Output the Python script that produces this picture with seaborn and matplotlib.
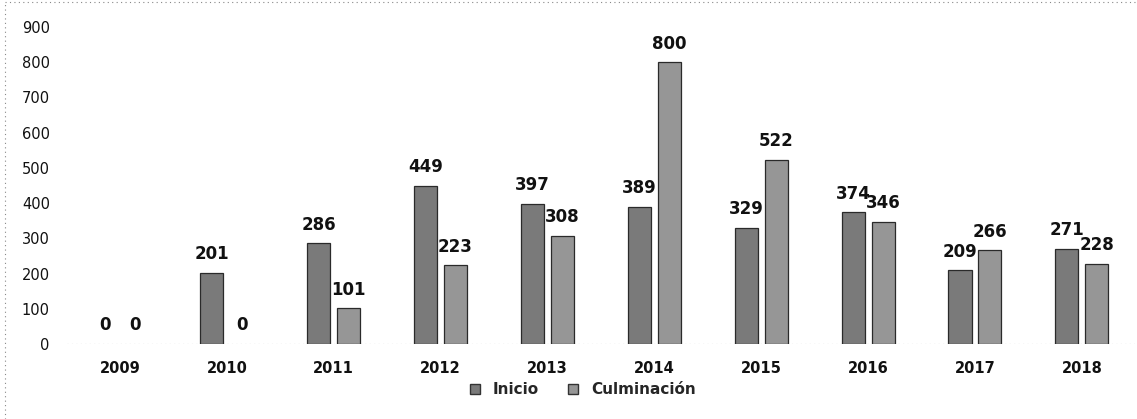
import matplotlib
matplotlib.use("Agg")
import matplotlib.pyplot as plt
import seaborn as sns
import pandas as pd
from matplotlib.lines import Line2D

years = ["2009", "2010", "2011", "2012", "2013", "2014", "2015", "2016", "2017", "2018"]
inicio = [0, 201, 286, 449, 397, 389, 329, 374, 209, 271]
culminacion = [0, 0, 101, 223, 308, 800, 522, 346, 266, 228]
series = ["Inicio", "Culminación"]
colors = ["#7a7a7a", "#969696"]

df = pd.DataFrame({
    "year": years * 2,
    "value": inicio + culminacion,
    "serie": [series[0]] * len(years) + [series[1]] * len(years),
})

sns.set_theme(style="white")
plt.rcParams["font.family"] = ["DejaVu Sans"]

fig = plt.figure(figsize=(11.37, 4.19), dpi=100)
ax = fig.add_axes([0.0585, 0.179, 0.94, 0.7565])

sns.barplot(data=df, x="year", y="value", hue="serie", palette=colors,
            width=0.56, gap=0.23, edgecolor="#2a2a2a", linewidth=0.9,
            ax=ax, legend=False)

for p in ax.patches:
    if p.get_height() == 0:
        p.set_linewidth(0)

for cont in ax.containers:
    ax.bar_label(cont, fmt="%d", padding=7, fontsize=12, fontweight="bold",
                 color="#111111")

ax.set_ylim(0, 900)
ax.set_yticks(range(0, 901, 100))
ax.set_xlabel("")
ax.set_ylabel("")
for s in ax.spines.values():
    s.set_visible(False)
ax.axhline(0, color="#777777", linewidth=0.8, linestyle=(0, (1, 3)))
ax.tick_params(axis="y", length=0, labelsize=10.5, pad=12, labelcolor="#111111")
ax.tick_params(axis="x", length=0, labelsize=10.5, pad=12, labelcolor="#111111")
for t in ax.get_xticklabels():
    t.set_fontweight("bold")

handles = [Line2D([], [], marker="s", linestyle="", markersize=7,
                  markerfacecolor=c, markeredgecolor="#333333") for c in colors]
fig.legend(handles, series, loc="center", bbox_to_anchor=(0.508, 0.07),
           ncol=2, frameon=False, handletextpad=0.2,
           columnspacing=1.2, prop={"weight": "bold", "size": 11})

# dotted frame on left and top as in the scanned image
fig.add_artist(Line2D([0.004, 0.004], [0.0, 0.995], transform=fig.transFigure,
                      color="#888888", linewidth=0.8, linestyle=(0, (1, 3))))
fig.add_artist(Line2D([0.004, 1.0], [0.995, 0.995], transform=fig.transFigure,
                      color="#888888", linewidth=0.8, linestyle=(0, (1, 3))))

fig.savefig("out.png", dpi=100)
